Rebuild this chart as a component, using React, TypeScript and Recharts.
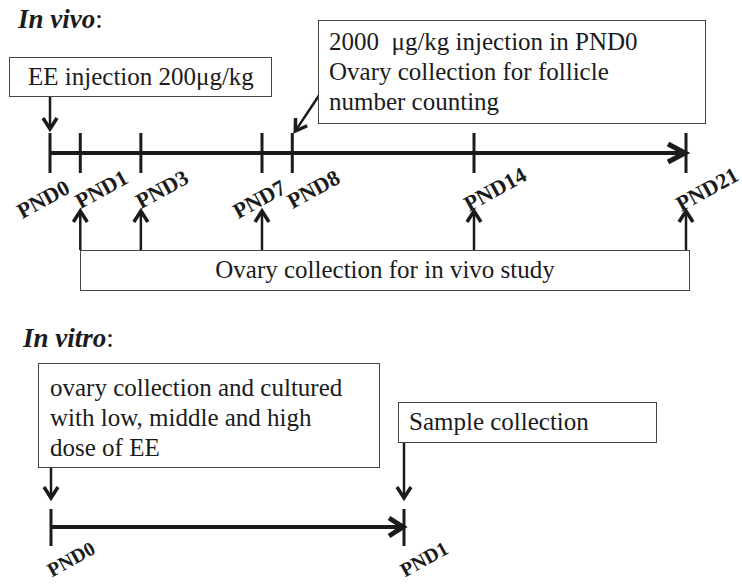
import React from "react";
import { ComposedChart, Line, XAxis, YAxis } from "recharts";

// in vivo timeline (postnatal days)
const vivoDays = [0, 1, 3, 7, 8, 14, 21];
const vivoLabels = ["PND0", "PND1", "PND3", "PND7", "PND8", "PND14", "PND21"];
const vivoInjectionDays = [0];
const vivoCountDays = [8];
const vivoCollectionDays = [1, 3, 7, 14, 21];

// in vitro timeline
const vitroDays = [0, 1];
const vitroLabels = ["PND0", "PND1"];
const vitroCultureDays = [0];
const vitroSampleDays = [1];

const SERIF = "Liberation Serif";
const INK = "#1b1b1b";

type ArrowProps = {
  x1: number;
  y1: number;
  x2: number;
  y2: number;
  width?: number;
  head?: number;
  spread?: number;
};

function Arrow({ x1, y1, x2, y2, width = 2.5, head = 11, spread = 7 }: ArrowProps) {
  const ang = Math.atan2(y2 - y1, x2 - x1);
  const dx = Math.cos(ang);
  const dy = Math.sin(ang);
  const bx = x2 - head * dx;
  const by = y2 - head * dy;
  const px = -dy * spread;
  const py = dx * spread;
  return (
    <g stroke={INK} fill="none">
      <line x1={x1} y1={y1} x2={x2 - 2 * dx} y2={y2 - 2 * dy} strokeWidth={width} />
      <polyline
        points={`${bx + px},${by + py} ${x2},${y2} ${bx - px},${by - py}`}
        strokeWidth={width + 1}
        strokeLinejoin="miter"
      />
    </g>
  );
}

const vivoLabelShift: Record<string, [number, number]> = {
  PND0: [-7, 46],
  PND7: [-3, 46],
};

const labelStyle: React.CSSProperties = {
  fontFamily: SERIF,
  fontWeight: "bold",
  fontSize: 22,
};

function VivoTick(props: any) {
  const { x, y, payload } = props;
  const day = payload.value as number;
  const label = vivoLabels[vivoDays.indexOf(day)];
  const [sx, sy] = vivoLabelShift[label] ?? [21, 36];
  return (
    <g>
      <line x1={x} y1={y - 20} x2={x} y2={y + 20} stroke={INK} strokeWidth={3} />
      <text
        transform={`translate(${x + sx},${y + sy}) rotate(-29)`}
        textAnchor="middle"
        dy="0.35em"
        style={labelStyle}
        fill={INK}
      >
        {label}
      </text>
      {vivoInjectionDays.includes(day) && <Arrow x1={x} y1={y - 56} x2={x} y2={y - 24} />}
      {vivoCountDays.includes(day) && <Arrow x1={x + 27} y1={y - 58} x2={x + 3} y2={y - 22} />}
      {vivoCollectionDays.includes(day) && <Arrow x1={x} y1={y + 97} x2={x} y2={y + 58} />}
    </g>
  );
}

function VitroTick(props: any) {
  const { x, y, payload } = props;
  const day = payload.value as number;
  const label = vitroLabels[vitroDays.indexOf(day)];
  return (
    <g>
      <line x1={x} y1={y - 18} x2={x} y2={y + 19} stroke={INK} strokeWidth={3} />
      <text
        transform={`translate(${x + 20},${y + 32}) rotate(-29)`}
        textAnchor="middle"
        dy="0.35em"
        style={{ ...labelStyle, fontSize: 20 }}
        fill={INK}
      >
        {label}
      </text>
      {vitroCultureDays.includes(day) && <Arrow x1={x} y1={y - 59} x2={x} y2={y - 29} />}
      {vitroSampleDays.includes(day) && <Arrow x1={x} y1={y - 84} x2={x} y2={y - 29} />}
    </g>
  );
}

function endArrow(lastIndex: number, head: number) {
  return (p: any) => {
    if (p.index !== lastIndex) return <g key={p.index} />;
    return (
      <g key={p.index}>
        <polyline
          points={`${p.cx - head},${p.cy - 9} ${p.cx - 1},${p.cy} ${p.cx - head},${p.cy + 9}`}
          fill="none"
          stroke={INK}
          strokeWidth={5}
        />
      </g>
    );
  };
}

const boxStyle: React.CSSProperties = {
  position: "absolute",
  boxSizing: "border-box",
  border: "1px solid #444",
  background: "#fff",
  fontFamily: SERIF,
  fontSize: 25,
  lineHeight: "30px",
  color: INK,
  whiteSpace: "pre",
};

const titleStyle: React.CSSProperties = {
  position: "absolute",
  fontFamily: SERIF,
  fontSize: 27,
  lineHeight: "27px",
  color: INK,
};

export default function App() {
  const vivoLine = vivoDays.map((d) => ({ day: d, v: 0 }));
  const vitroLine = vitroDays.map((d) => ({ day: d, v: 0 }));
  return (
    <div
      style={{
        position: "absolute",
        left: 0,
        top: 0,
        width: 742,
        height: 585,
        background: "#fff",
        overflow: "hidden",
        fontFamily: SERIF,
      }}
    >
      <div style={{ ...titleStyle, left: 18, top: 6 }}>
        <b>
          <i>In vivo</i>
        </b>
        :
      </div>
      <div style={{ ...titleStyle, left: 23, top: 325 }}>
        <b>
          <i>In vitro</i>
        </b>
        :
      </div>

      <div style={{ position: "absolute", left: 0, top: 0 }}>
        <ComposedChart
          width={742}
          height={320}
          data={vivoLine}
          margin={{ top: 0, right: 56, bottom: 0, left: 50 }}
        >
          <XAxis
            dataKey="day"
            type="number"
            domain={[0, 21]}
            ticks={vivoDays}
            interval={0}
            height={167}
            axisLine={false}
            tickLine={false}
            tickSize={0}
            tickMargin={0}
            tick={<VivoTick />}
          />
          <YAxis hide domain={[0, 1]} />
          <Line
            dataKey="v"
            stroke={INK}
            strokeWidth={4}
            dot={endArrow(vivoLine.length - 1, 18)}
            isAnimationActive={false}
          />
        </ComposedChart>
      </div>

      <div style={{ position: "absolute", left: 0, top: 320 }}>
        <ComposedChart
          width={742}
          height={265}
          data={vitroLine}
          margin={{ top: 0, right: 338, bottom: 0, left: 51 }}
        >
          <XAxis
            dataKey="day"
            type="number"
            domain={[0, 1]}
            ticks={vitroDays}
            interval={0}
            height={58}
            axisLine={false}
            tickLine={false}
            tickSize={0}
            tickMargin={0}
            tick={<VitroTick />}
          />
          <YAxis hide domain={[0, 1]} />
          <Line
            dataKey="v"
            stroke={INK}
            strokeWidth={4}
            dot={endArrow(vitroLine.length - 1, 15)}
            isAnimationActive={false}
          />
        </ComposedChart>
      </div>

      <div style={{ ...boxStyle, left: 9, top: 57, width: 263, height: 40, padding: "4px 0 0 18px" }}>
        {"EE injection 200\u03bcg/kg"}
      </div>
      <div style={{ ...boxStyle, left: 318, top: 20, width: 388, height: 104, padding: "6px 0 0 10px" }}>
        {"2000  \u03bcg/kg injection in PND0\nOvary collection for follicle\nnumber counting"}
      </div>
      <div
        style={{
          ...boxStyle,
          left: 80,
          top: 250,
          width: 610,
          height: 41,
          paddingTop: 4,
          textAlign: "center",
        }}
      >
        Ovary collection for in vivo study
      </div>

      <div style={{ ...boxStyle, left: 38, top: 363, width: 342, height: 105, padding: "9px 0 0 11px" }}>
        {"ovary collection and cultured\nwith low, middle and high\ndose of EE"}
      </div>
      <div style={{ ...boxStyle, left: 398, top: 402, width: 259, height: 41, padding: "4px 0 0 10px" }}>
        Sample collection
      </div>
    </div>
  );
}
